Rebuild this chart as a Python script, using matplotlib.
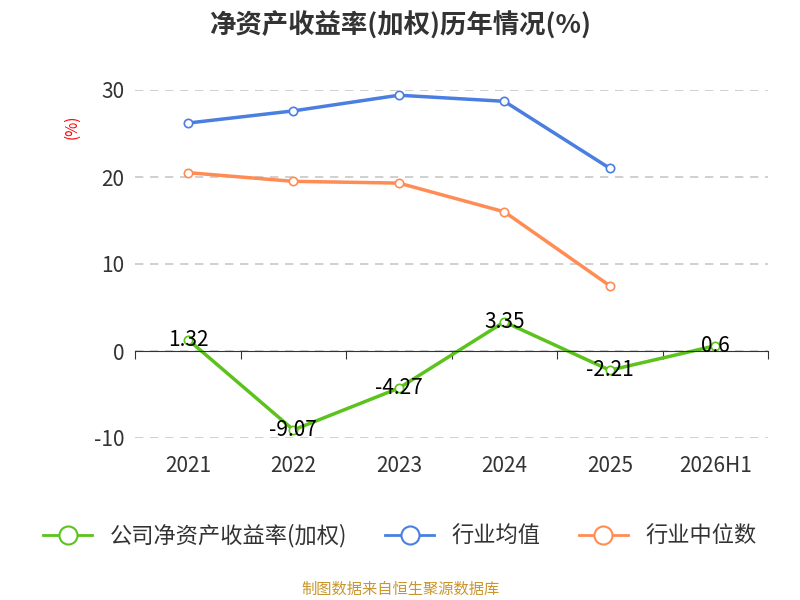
import matplotlib
matplotlib.use("Agg")
import matplotlib.pyplot as plt

plt.rcParams['font.family'] = ['Noto Sans CJK SC', 'DejaVu Sans']
plt.rcParams['axes.unicode_minus'] = False

years = ["2021", "2022", "2023", "2024", "2025", "2026H1"]
company = [1.32, -9.07, -4.27, 3.35, -2.21, 0.6]
ind_avg = [26.2, 27.6, 29.4, 28.7, 21.0]
ind_med = [20.5, 19.5, 19.3, 16.0, 7.5]

fig = plt.figure(figsize=(8, 6), dpi=100)
ax = fig.add_axes([0.169, 0.27, 0.791, 0.58])
x = list(range(len(years)))
green, blue, orange = '#5cc21c', '#4a7ee0', '#ff8c55'
ax.plot(x, company, color=green, lw=2.5, marker='o', ms=6, mfc='white', mew=1.2)
ax.plot(x[:5], ind_avg, color=blue, lw=2.5, marker='o', ms=6, mfc='white', mew=1.2)
ax.plot(x[:5], ind_med, color=orange, lw=2.5, marker='o', ms=6, mfc='white', mew=1.2)
for xi, v in zip(x, company):
    ax.text(xi, v, f"{v:g}", ha='center', va='center', fontsize=15, color='black')

ax.set_xlim(-0.5, 5.5)
ax.set_ylim(-10, 30)
ax.set_yticks([-10, 0, 10, 20, 30])
ax.yaxis.grid(True, ls=(0, (5, 4)), color='#c8c8c8', lw=1.2)
for s in ['top', 'right', 'left']:
    ax.spines[s].set_visible(False)
ax.spines['bottom'].set_position(('data', 0))
ax.spines['bottom'].set_color('#333333')
ax.set_xticks([i - 0.5 for i in range(7)], minor=False)
ax.set_xticklabels([])
ax.tick_params(axis='x', length=6, color='#333333')
ax.tick_params(axis='y', length=0, labelsize=15, labelcolor='#333333', pad=8)
for xi, lab in zip(x, years):
    ax.text(xi, -12.0, lab, ha='center', va='top', fontsize=15, color='#333333')
ax.text(-1.1, 25.8, '(%)', rotation=90, color='red', fontsize=11, ha='center', va='center')

fig.text(0.5, 0.958, '净资产收益率(加权)历年情况(%)', ha='center', va='center',
         fontsize=19, fontweight='bold', color='#333333')

from matplotlib.lines import Line2D
handles = [Line2D([], [], color=c, lw=2, marker='o', ms=13, mfc='white', mew=1.5)
           for c in (green, blue, orange)]
fig.legend(handles, ['公司净资产收益率(加权)', '行业均值', '行业中位数'], loc='center',
           bbox_to_anchor=(0.5, 0.107), ncol=3, frameon=False, fontsize=16,
           handlelength=2.2, columnspacing=1.7, labelcolor='#333333')
fig.text(0.5, 0.018, '制图数据来自恒生聚源数据库', ha='center', va='center',
         fontsize=11, color='#c8962d')
fig.savefig('out.png')
